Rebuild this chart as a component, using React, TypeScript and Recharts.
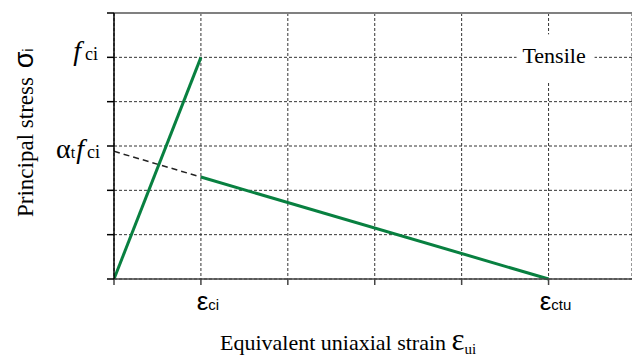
import React from 'react';
import { LineChart, Line, XAxis, YAxis, CartesianGrid, ReferenceLine, ReferenceDot, Label } from 'recharts';

// strain axis (units of grid spacing) and stress axis (units of grid spacing)
const xTicks = [0, 1, 2, 3, 4, 5];
const yTicks = [0, 1, 2, 3, 4, 5, 6];
const xTickLabels: Record<number, string> = { 1: 'ci', 5: 'ctu' };
const yTickLabels: Record<number, string> = { 5: 'fci', 3: 'atfci' };

// loading branch up to peak tensile stress f_ci at strain eps_ci
const riseStrain = [0, 1];
const riseStress = [0, 5];
// linear softening extrapolated back to alpha_t * f_ci (dashed part)
const extStrain = [0, 1];
const extStress = [2.88, 2.3];
// softening branch down to eps_ctu
const softStrain = [1, 5];
const softStress = [2.3, 0];

const toPts = (xs: number[], ys: number[]) => xs.map((x, i) => ({ x, y: ys[i] }));
const riseData = toPts(riseStrain, riseStress);
const extData = toPts(extStrain, extStress);
const softData = toPts(softStrain, softStress);

const SERIF = '"Liberation Serif", "Times New Roman", serif';
const SANS = '"Liberation Sans", Arial, sans-serif';
const GREEN = '#088040';
const serif = { fontFamily: SERIF };
const sans = { fontFamily: SANS };

const XTick = (props: any) => {
  const { x, y, payload } = props;
  const sub = xTickLabels[payload.value];
  if (!sub) return null;
  return (
    <text x={x + 7} y={y + 23} textAnchor="middle" fill="#000" style={sans}>
      <tspan fontSize={26}>ε</tspan>
      <tspan fontSize={15}>{sub}</tspan>
    </text>
  );
};

const YTick = (props: any) => {
  const { x, y, payload } = props;
  const lab = yTickLabels[payload.value];
  if (!lab) return null;
  if (lab === 'fci') {
    return (
      <text x={x - 7} y={y + 3} textAnchor="end" fill="#000" style={serif}>
        <tspan fontSize={28} fontStyle="italic">f</tspan>
        <tspan fontSize={18} dx={4}>ci</tspan>
      </text>
    );
  }
  return (
    <text x={x - 5} y={y + 12} textAnchor="end" fill="#000" style={serif}>
      <tspan fontSize={28}>α</tspan>
      <tspan fontSize={16}>t</tspan>
      <tspan fontSize={28} fontStyle="italic" dx={1}>f</tspan>
      <tspan fontSize={18} dx={3}>ci</tspan>
    </text>
  );
};

const YTitle = (props: any) => {
  const vb = props.viewBox;
  const bx = 33;
  const by = vb.y + vb.height - 62;
  return (
    <text x={bx} y={by} transform={`rotate(-90, ${bx}, ${by})`} textAnchor="start" fill="#000" style={serif}>
      <tspan fontSize={23}>Principal stress </tspan>
      <tspan fontSize={27} style={sans} dx={3}>σ</tspan>
      <tspan fontSize={14} style={sans}>i</tspan>
    </text>
  );
};

const XTitle = (props: any) => {
  const vb = props.viewBox;
  return (
    <text x={220} y={vb.y + 71} textAnchor="start" fill="#000" style={serif}>
      <tspan fontSize={22}>Equivalent uniaxial strain </tspan>
      <tspan fontSize={31}>ε</tspan>
      <tspan fontSize={15} dy={4}>ui</tspan>
    </text>
  );
};

const TensileLabel = (props: any) => {
  const vb = props.viewBox;
  const cx = vb.x + vb.width / 2;
  const cy = vb.y + vb.height / 2;
  return (
    <g>
      <rect x={cx - 32} y={cy - 23} width={78} height={47} fill="#fff" />
      <text x={cx + 5.5} y={cy + 6} textAnchor="middle" fontSize={22} fill="#000" style={serif}>
        Tensile
      </text>
    </g>
  );
};

export default function App() {
  return (
    <div style={{ position: 'absolute', left: 0, top: 0, background: '#fff' }}>
      <LineChart width={632} height={358} margin={{ top: 13, right: 0, bottom: 0, left: 0 }}>
        <CartesianGrid stroke="#333" strokeDasharray="3 2" strokeWidth={1} />
        <XAxis
          type="number"
          dataKey="x"
          domain={[0, 5.96]}
          ticks={xTicks}
          height={79}
          tickSize={6}
          tick={<XTick />}
          stroke="#444"
          strokeWidth={1.5}
          allowDataOverflow
        >
          <Label content={<XTitle />} />
        </XAxis>
        <YAxis
          type="number"
          dataKey="y"
          domain={[0, 6]}
          ticks={yTicks}
          width={114}
          tickSize={7}
          tick={<YTick />}
          stroke="#000"
          strokeWidth={1.5}
        >
          <Label content={<YTitle />} />
        </YAxis>
        <ReferenceLine y={6} stroke="#808080" strokeWidth={2} />
        <ReferenceDot x={5} y={5} r={0} fill="none" stroke="none" label={<TensileLabel />} />
        <Line data={extData} dataKey="y" type="linear" stroke="#222" strokeWidth={1.5} strokeDasharray="6 4" dot={false} isAnimationActive={false} />
        <Line data={riseData} dataKey="y" type="linear" stroke={GREEN} strokeWidth={3} dot={false} isAnimationActive={false} />
        <Line data={softData} dataKey="y" type="linear" stroke={GREEN} strokeWidth={3} dot={false} isAnimationActive={false} />
      </LineChart>
    </div>
  );
}
